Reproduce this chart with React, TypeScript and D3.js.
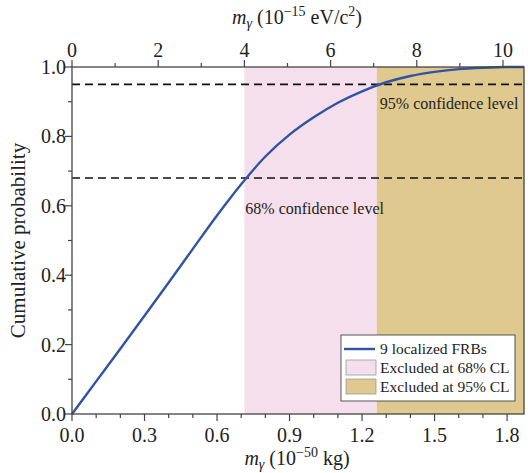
import React from "react";
import * as d3 from "d3";

const massKg: number[] = [0, 0.1, 0.2, 0.3, 0.4, 0.5, 0.6, 0.7, 0.8, 0.9, 1.0, 1.1, 1.2, 1.3, 1.4, 1.5, 1.6, 1.7, 1.8, 1.87];
const cumProb: number[] = [0, 0.094, 0.188, 0.283, 0.379, 0.476, 0.572, 0.662, 0.742, 0.805, 0.855, 0.897, 0.930, 0.956, 0.974, 0.986, 0.994, 0.998, 1.0, 1.0];
const bottomTicks: number[] = [0, 0.3, 0.6, 0.9, 1.2, 1.5, 1.8];
const bottomMinor: number[] = [0.1, 0.2, 0.4, 0.5, 0.7, 0.8, 1.0, 1.1, 1.3, 1.4, 1.6, 1.7];
const topTicks: number[] = [0, 2, 4, 6, 8, 10];
const topMinor: number[] = [1, 3, 5, 7, 9];
const leftTicks: number[] = [0, 0.2, 0.4, 0.6, 0.8, 1.0];
const leftMinor: number[] = [0.1, 0.3, 0.5, 0.7, 0.9];
const cl68 = 0.68;
const cl95 = 0.95;
const excl68Start = 0.713; // 1e-50 kg
const excl95Start = 1.261;
const kgPerEv = 0.1783; // 1e-15 eV/c^2 in 1e-50 kg

const W = 528, H = 473;
const L = 72, R = 524, T = 67, B = 414;
const FONT = "Liberation Serif";

export default function App() {
  const x = d3.scaleLinear().domain([0, 1.87]).range([L, R]);
  const xTop = d3.scaleLinear().domain([0, 1.87 / kgPerEv]).range([L, R]);
  const y = d3.scaleLinear().domain([0, 1]).range([B, T]);
  const pts = massKg.map((m, i) => [m, cumProb[i]] as [number, number]);
  const line = d3.line<[number, number]>().x(d => x(d[0])).y(d => y(d[1])).curve(d3.curveMonotoneX);
  const axisColor = "#444";
  const blue = "#3054a2";
  const pink = "#f6dfec";
  const tan = "#e0c98e";
  const tc = "#222";
  return (
    <svg width={W} height={H} style={{ position: "absolute", left: 0, top: 0 }} fontFamily={FONT}>
      <rect x={0} y={0} width={W} height={H} fill="#fff" />
      <rect x={x(excl68Start)} y={T} width={x(excl95Start) - x(excl68Start)} height={B - T} fill={pink} />
      <rect x={x(excl95Start)} y={T} width={R - x(excl95Start)} height={B - T} fill={tan} />
      {[cl68, cl95].map(v => (
        <line key={v} x1={L} x2={R} y1={y(v)} y2={y(v)} stroke="#111" strokeWidth={1.6} strokeDasharray="8,5" />
      ))}
      <path d={line(pts) || ""} fill="none" stroke={blue} strokeWidth={2.4} />
      <rect x={L} y={T} width={R - L} height={B - T} fill="none" stroke={axisColor} strokeWidth={1.3} />
      {/* bottom axis */}
      {bottomTicks.map(t => (
        <g key={"b" + t}>
          <line x1={x(t)} x2={x(t)} y1={B} y2={B + 7} stroke={axisColor} strokeWidth={1.2} />
          <text x={x(t)} y={B + 28} textAnchor="middle" fontSize={20} fill={tc}>{t.toFixed(1)}</text>
        </g>
      ))}
      {bottomMinor.map(t => (
        <line key={"bm" + t} x1={x(t)} x2={x(t)} y1={B} y2={B + 4} stroke={axisColor} strokeWidth={1.2} />
      ))}
      {/* top axis */}
      {topTicks.map(t => (
        <g key={"t" + t}>
          <line x1={xTop(t)} x2={xTop(t)} y1={T} y2={T - 7} stroke={axisColor} strokeWidth={1.2} />
          <text x={xTop(t)} y={T - 10} textAnchor="middle" fontSize={20} fill={tc}>{t}</text>
        </g>
      ))}
      {topMinor.map(t => (
        <line key={"tm" + t} x1={xTop(t)} x2={xTop(t)} y1={T} y2={T - 4} stroke={axisColor} strokeWidth={1.2} />
      ))}
      {/* left axis */}
      {leftTicks.map(t => (
        <g key={"l" + t}>
          <line x1={L} x2={L - 7} y1={y(t)} y2={y(t)} stroke={axisColor} strokeWidth={1.2} />
          <text x={L - 6} y={y(t) + 7} textAnchor="end" fontSize={20} fill={tc}>{t.toFixed(1)}</text>
        </g>
      ))}
      {leftMinor.map(t => (
        <line key={"lm" + t} x1={L} x2={L - 4} y1={y(t)} y2={y(t)} stroke={axisColor} strokeWidth={1.2} />
      ))}
      {/* axis titles */}
      <text x={297} y={465} textAnchor="middle" fontSize={20} fill={tc}>
        <tspan fontStyle="italic">m</tspan><tspan fontStyle="italic" fontSize={14} dy={4}>γ</tspan>
        <tspan dy={-4}> (10</tspan><tspan fontSize={14} dy={-8}>−50</tspan><tspan dy={8}> kg)</tspan>
      </text>
      <text x={297} y={24} textAnchor="middle" fontSize={20} fill={tc}>
        <tspan fontStyle="italic">m</tspan><tspan fontStyle="italic" fontSize={14} dy={4}>γ</tspan>
        <tspan dy={-4}> (10</tspan><tspan fontSize={14} dy={-8}>−15</tspan><tspan dy={8}> eV/c</tspan><tspan fontSize={14} dy={-8}>2</tspan><tspan dy={8}>)</tspan>
      </text>
      <text transform={`translate(25, ${(T + B) / 2}) rotate(-90)`} textAnchor="middle" fontSize={21} fill={tc}>Cumulative probability</text>
      {/* annotations */}
      <text x={x(excl68Start) + 1} y={y(cl68) + 36} fontSize={16} fill={tc}>68% confidence level</text>
      <text x={x(excl95Start) + 3} y={y(cl95) + 25} fontSize={16} fill={tc}>95% confidence level</text>
      {/* legend */}
      <g>
        <rect x={341} y={335} width={174} height={66} fill="#fff" stroke="#555" strokeWidth={1} />
        <line x1={344} x2={375} y1={349} y2={349} stroke={blue} strokeWidth={2.4} />
        <text x={380} y={354} fontSize={15.5} fill={tc}>9 localized FRBs</text>
        <rect x={346} y={360} width={30} height={15} fill={pink} stroke="#999" strokeWidth={0.8} />
        <text x={380} y={373} fontSize={15.5} fill={tc}>Excluded at 68% CL</text>
        <rect x={346} y={379} width={30} height={15} fill={tan} stroke="#999" strokeWidth={0.8} />
        <text x={380} y={392} fontSize={15.5} fill={tc}>Excluded at 95% CL</text>
      </g>
    </svg>
  );
}
